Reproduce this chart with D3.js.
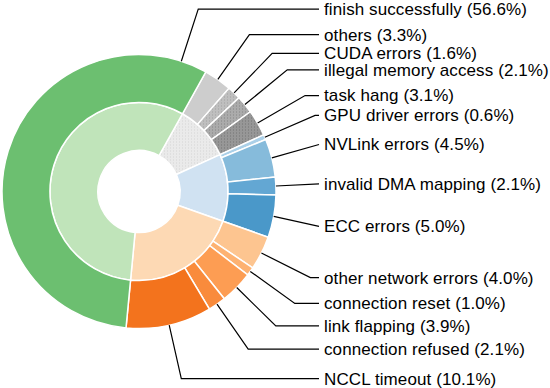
<!DOCTYPE html>
<html>
<head>
<meta charset="utf-8">
<script src="https://cdn.jsdelivr.net/npm/d3@7"></script>
<style>
  body { margin: 0; background: #fff; }
  svg { display: block; }
  .lbl { font-family: "Liberation Sans", Arial, Helvetica, sans-serif; font-size: 17px; letter-spacing: 0.1px; fill: #000; }
</style>
</head>
<body>
<div id="vis"><svg></svg></div>
<script>
// outer ring: failure reasons (percent)
const labels = ["others", "CUDA errors", "illegal memory access", "task hang",
  "GPU driver errors", "NVLink errors", "invalid DMA mapping", "ECC errors",
  "other network errors", "connection reset", "link flapping", "connection refused",
  "NCCL timeout", "finish successfully"];
const values = [3.3, 1.6, 2.1, 3.1, 0.6, 4.5, 2.1, 5.0, 4.0, 1.0, 3.9, 2.1, 10.1, 56.6];
const groupOf = ["other", "other", "other", "other", "gpu", "gpu", "gpu", "gpu",
  "net", "net", "net", "net", "net", "ok"];
const colors = ["#cdcdcd", "#bfbfbf", "#ababab", "#979797",
  "#abd0e8", "#86bbdb", "#63a7d3", "#4a98c9",
  "#fdc590", "#fdb272", "#fd9d53", "#f98b3c", "#f3731d", "#6cbf70"];
const dotted = [0, 0.35, 0.55, 0.6, 0, 0, 0, 0, 0, 0, 0, 0, 0, 0];

// inner ring: groups
const groups = ["other", "gpu", "net", "ok"];
const groupColors = ["#eaeaea", "#d0e2f2", "#fdd9b4", "#c0e4ba"];
const groupDotted = [0.2, 0, 0, 0];

const W = 550, H = 388;
const cx = 139, cy = 191.5, R = 137;
const startDeg = 29.2;
const textX = 324;

const svg = d3.select("#vis").select("svg")
  .attr("width", W).attr("height", H);

// stipple patterns for the gray slices
const defs = svg.append("defs");
function dotPattern(id, base, k) {
  const c = d3.color(base).darker(k * 1.6);
  const p = defs.append("pattern").attr("id", id)
    .attr("patternUnits", "userSpaceOnUse")
    .attr("width", 3).attr("height", 3);
  p.append("rect").attr("width", 3).attr("height", 3).attr("fill", base);
  p.append("circle").attr("cx", 1.5).attr("cy", 1.5).attr("r", 0.55).attr("fill", c);
  return "url(#" + id + ")";
}

const a0 = startDeg * Math.PI / 180;
const pie = d3.pie().sort(null).value(d => d)
  .startAngle(a0).endAngle(a0 + 2 * Math.PI);

const outerArcs = pie(values);
const groupValues = groups.map(g => d3.sum(values.filter((v, i) => groupOf[i] === g)));
const innerArcs = pie(groupValues);

const g = svg.append("g").attr("transform", `translate(${cx},${cy})`);

const outerArc = d3.arc().innerRadius(R * 0.65).outerRadius(R);
const innerArc = d3.arc().innerRadius(R * 0.3).outerRadius(R * 0.65);

g.selectAll("path.inner")
  .data(innerArcs)
  .join("path")
  .attr("class", "inner")
  .attr("d", innerArc)
  .attr("fill", (d, i) => groupDotted[i] ? dotPattern("gdot" + i, groupColors[i], groupDotted[i]) : groupColors[i])
  .attr("stroke", "#fff")
  .attr("stroke-width", 1.5);

g.selectAll("path.outer")
  .data(outerArcs)
  .join("path")
  .attr("class", "outer")
  .attr("d", outerArc)
  .attr("fill", (d, i) => dotted[i] ? dotPattern("dot" + i, colors[i], dotted[i]) : colors[i])
  .attr("stroke", "#fff")
  .attr("stroke-width", 1.5);

// annotations: line from the ring edge, radially out, then across to the text
const anchorFrac = labels.map(l => l === "finish successfully" ? 0.945 : 0.5);

const ann = svg.append("g");
outerArcs.forEach((d, i) => {
  const th = d.startAngle + (d.endAngle - d.startAngle) * anchorFrac[i];
  const x0 = cx + R * Math.sin(th), y0 = cy - R * Math.cos(th);
  const ly = cy - 1.4 * R * Math.cos(th);
  const endX = textX - 5;
  const bx = Math.min(cx + 1.4 * R * Math.sin(th), endX);
  ann.append("path")
    .attr("d", d3.line()([[x0, y0], [bx, ly], [endX, ly]]))
    .attr("fill", "none")
    .attr("stroke", "#000")
    .attr("stroke-width", 1.2);
  ann.append("text")
    .attr("class", "lbl")
    .attr("x", textX)
    .attr("y", ly)
    .attr("dy", "0.35em")
    .text(`${labels[i]} (${values[i].toFixed(1)}%)`);
});
</script>
</body>
</html>
